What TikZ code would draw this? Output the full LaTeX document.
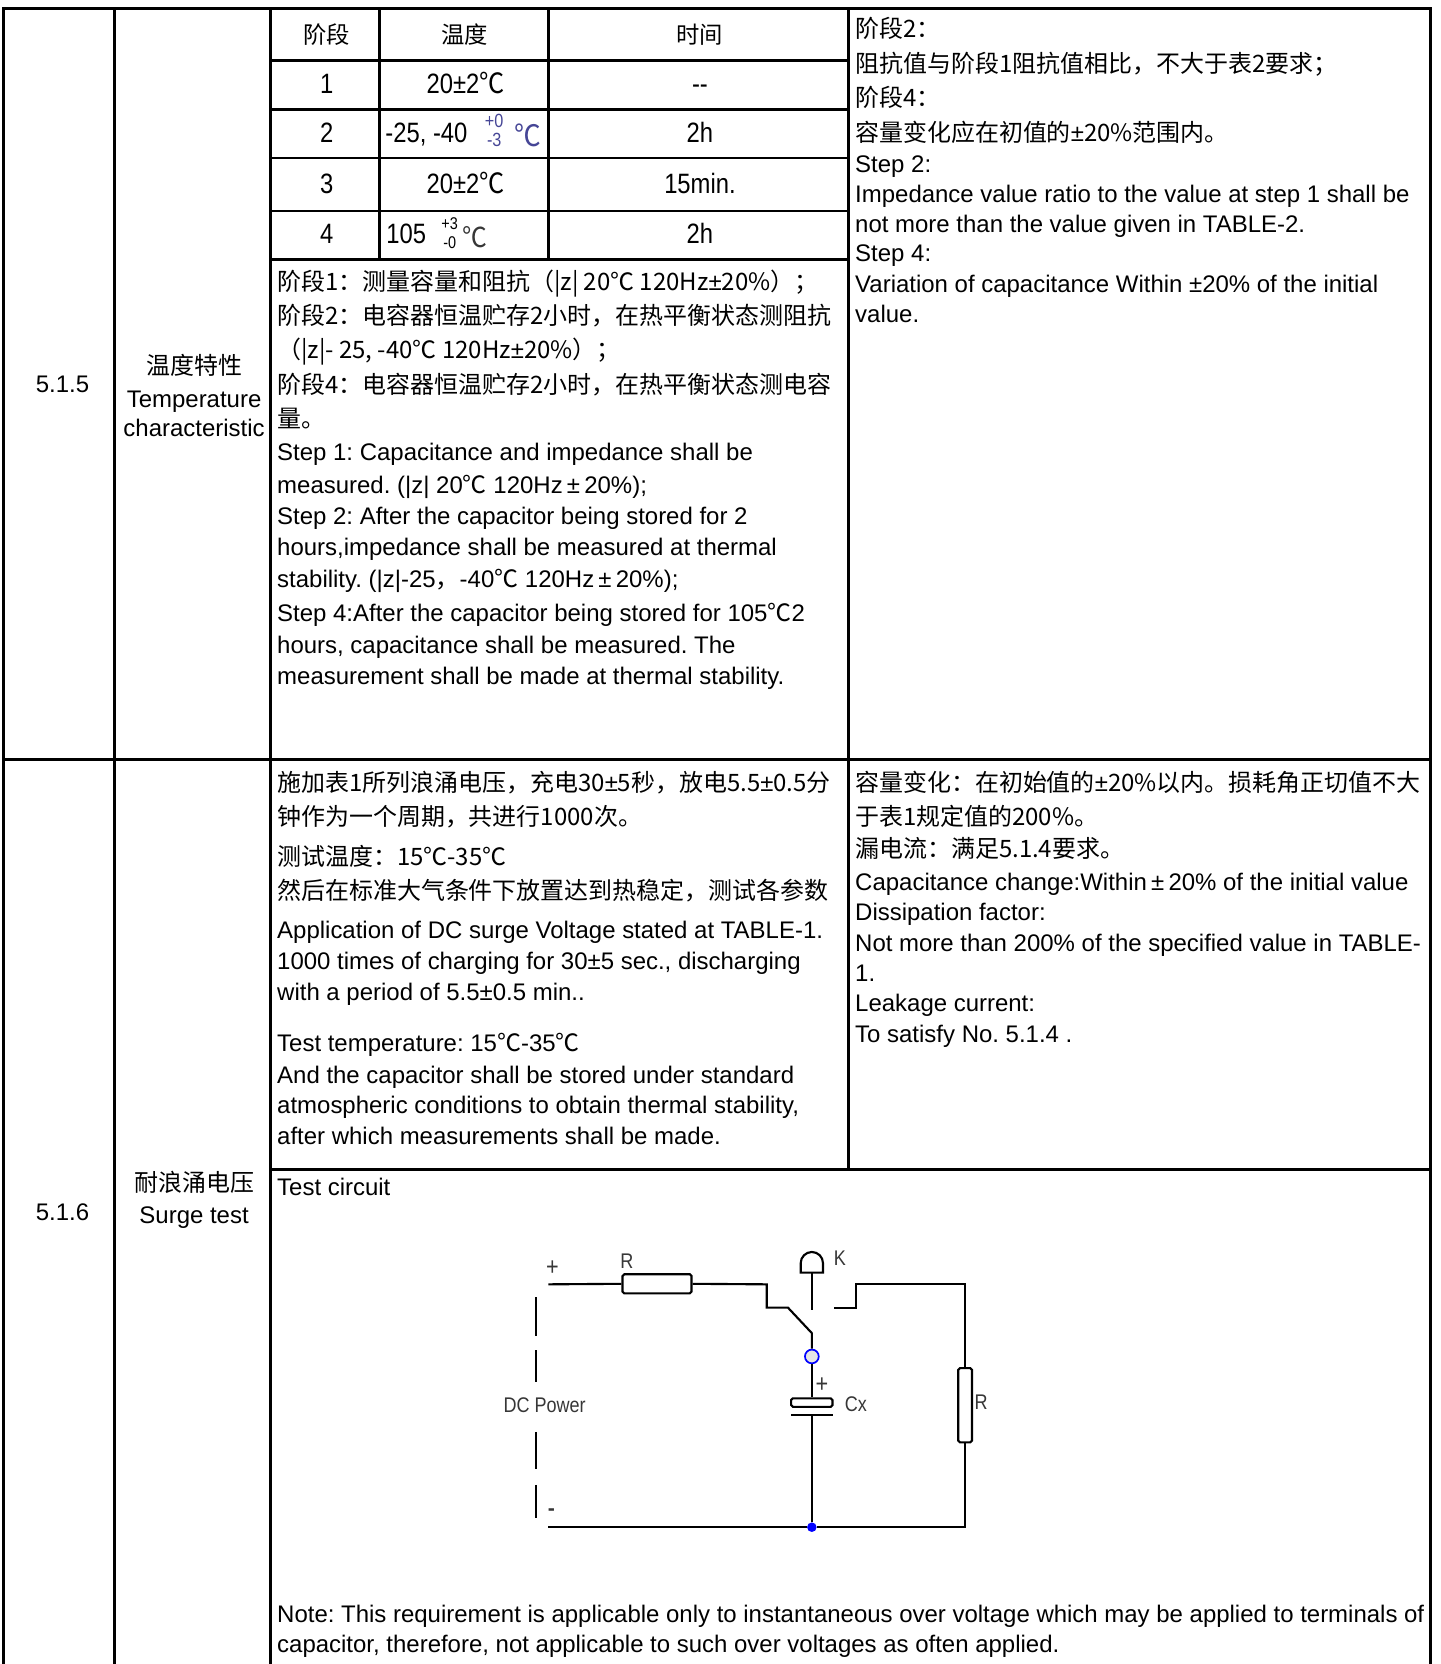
\documentclass[tikz,border=0pt]{standalone}
\usepackage{fontspec}
\usepackage{tikz}
\setmainfont{Liberation Sans}
\newfontfamily\cjk{Noto Sans CJK SC}
\newfontfamily\narrow[FakeStretch=0.85]{Liberation Sans}
\newfontfamily\cjknarrow[FakeStretch=0.9]{Noto Sans CJK SC}
\newcommand{\lpm}{{\rmfamily ±}}
\definecolor{supblue}{RGB}{70,70,150}
\definecolor{circgray}{RGB}{55,55,55}
\frenchspacing

\begin{document}
\begin{tikzpicture}[x=0.5pt,y=-0.5pt]

    \tikzstyle{txt} = [anchor=base west, inner sep=0pt, font=\fontsize{11.3}{14}\selectfont];
    \tikzstyle{zh} = [txt, font=\fontsize{11.3}{14}\selectfont\cjk];
    \tikzstyle{mid} = [txt, anchor=base];
    \tikzstyle{zhmid} = [zh, anchor=base];
    \tikzstyle{cell} = [anchor=base, inner sep=0pt, font=\fontsize{13.2}{15}\selectfont\narrow];
    \tikzstyle{zhcell} = [anchor=base, inner sep=0pt, font=\fontsize{11}{13}\selectfont\cjk];
    \tikzstyle{sup} = [inner sep=0pt, font=\fontsize{9}{10}\selectfont\narrow, text=supblue];
    \tikzstyle{deg} = [inner sep=0pt, font=\fontsize{14}{15}\selectfont\cjknarrow, text=supblue];
    \tikzstyle{grid} = [line width=1.3pt, line cap=rect];
    \tikzstyle{wire} = [line width=1pt];
    \tikzstyle{res} = [draw, rectangle, rounded corners=0.8pt, line width=1pt, inner sep=0pt];
    \tikzstyle{lbl} = [inner sep=0pt, font=\fontsize{10}{12}\selectfont\narrow, text=circgray];

    \useasboundingbox (0,0) rectangle (1358,1569);

    % table frame
    \draw[grid] (3,1575) -- (3,8) -- (1349,8) -- (1349,1575);
    \draw[grid] (108,8) -- (108,1575);
    \draw[grid] (255,8) -- (255,1575);
    \draw[grid] (800,8) -- (800,1103);
    \draw[grid] (3,716) -- (1349,716);
    \draw[grid] (255,1103) -- (1349,1103);
    % stage table
    \draw[grid] (358,8) -- (358,245);
    \draw[grid] (517,8) -- (517,245);
    \draw[grid] (255,57) -- (800,57);
    \draw[grid] (255,103) -- (800,103);
    \draw[grid] (255,149) -- (800,149);
    \draw[grid] (255,199) -- (800,199);
    \draw[grid] (255,245) -- (800,245);

    % item columns
    \node[mid] (n515) at (59,370) {5.1.5};
    \node[zhmid] (k515) at (183,353) {温度特性};
    \node[mid] (e515a) at (183,384) {Temperature};
    \node[mid] (e515b) at (183,412) {characteristic};
    \node[mid] (n516) at (59,1151) {5.1.6};
    \node[zhmid] (k516) at (183,1123) {耐浪涌电压};
    \node[mid] (e516) at (183,1154) {Surge test};

    % stage table cells
    \node[zhcell] (h1) at (308,41) {阶段};
    \node[zhcell] (h2) at (438,41) {温度};
    \node[zhcell] (h3) at (660,41) {时间};
    \node[cell] (s1) at (308,88) {1};
    \node[cell] (t1) at (439,88) {20±2{\cjknarrow ℃}};
    \node[cell] (m1) at (660,88) {-{}-};
    \node[cell] (s2) at (308,134) {2};
    \node[cell, anchor=base west] (t2) at (363,134) {-25, -40};
    \node[sup] (t2a) at (466,114) {+0};
    \node[sup] (t2b) at (466,132) {-3};
    \node[deg] (t2c) at (498,128) {℃};
    \node[cell] (m2) at (660,134) {2h};
    \node[cell] (s3) at (308,182) {3};
    \node[cell] (t3) at (439,182) {20±2{\cjknarrow ℃}};
    \node[cell] (m3) at (660,182) {15min.};
    \node[cell] (s4) at (308,230) {4};
    \node[cell, anchor=base west] (t4) at (364,230) {105};
    \node[sup, text=black, font=\fontsize{8}{9}\selectfont\narrow] (t4a) at (424,211) {+3};
    \node[sup, text=black, font=\fontsize{8}{9}\selectfont\narrow] (t4b) at (424,229) {-0};
    \node[deg, text=circgray, font=\fontsize{13}{14}\selectfont\cjknarrow] (t4c) at (448,224) {℃};
    \node[cell] (m4) at (660,230) {2h};

    % 5.1.5 method
    \node[zh] (a1) at (261,274) {阶段1：测量容量和阻抗（|z| 20℃ 120Hz\lpm 20\%）；};
    \node[zh] (a2) at (261,306) {阶段2：电容器恒温贮存2小时，在热平衡状态测阻抗};
    \node[zh] (a3) at (261,338) {（|z|- 25, -40℃ 120Hz\lpm 20\%）；};
    \node[zh] (a4) at (261,371) {阶段4：电容器恒温贮存2小时，在热平衡状态测电容};
    \node[zh] (a5) at (261,403) {量。};
    \node[txt] (a6) at (261,434) {Step 1: Capacitance and impedance shall be};
    \node[txt] (a7) at (261,465) {measured. (|z| 20{\cjk ℃} 120Hz\makebox[0.9em]{±}20\%);};
    \node[txt] (a8) at (261,495) {Step 2: After the capacitor being stored for 2};
    \node[txt] (a9) at (261,524) {hours,impedance shall be measured at thermal};
    \node[txt] (a10) at (261,554) {stability. (|z|-25{\cjk ，}-40{\cjk ℃} 120Hz\makebox[0.9em]{±}20\%);};
    \node[txt] (a11) at (261,586) {Step 4:After the capacitor being stored for 105{\cjk ℃}2};
    \node[txt] (a12) at (261,616) {hours, capacitance shall be measured. The};
    \node[txt] (a13) at (261,645) {measurement shall be made at thermal stability.};

    % 5.1.5 requirement
    \node[zh] (b1) at (806,35) {阶段2：};
    \node[zh] (b2) at (806,68) {阻抗值与阶段1阻抗值相比，不大于表2要求；};
    \node[zh] (b3) at (806,100) {阶段4：};
    \node[zh] (b4) at (806,133) {容量变化应在初值的\lpm 20\%范围内。};
    \node[txt] (b5) at (806,163) {Step 2:};
    \node[txt] (b6) at (806,191) {Impedance value ratio to the value at step 1 shall be};
    \node[txt] (b7) at (806,219) {not more than the value given in TABLE-2.};
    \node[txt] (b8) at (806,247) {Step 4:};
    \node[txt] (b9) at (806,276) {Variation of capacitance Within ±20\% of the initial};
    \node[txt] (b10) at (806,304) {value.};

    % 5.1.6 method
    \node[zh] (c1) at (261,746) {施加表1所列浪涌电压，充电30\lpm 5秒，放电5.5\lpm 0.5分};
    \node[zh] (c2) at (261,778) {钟作为一个周期，共进行1000次。};
    \node[zh] (c3) at (261,816) {测试温度：15℃-35℃};
    \node[zh] (c4) at (261,848) {然后在标准大气条件下放置达到热稳定，测试各参数};
    \node[txt] (c5) at (261,885) {Application of DC surge Voltage stated at TABLE-1.};
    \node[txt] (c6) at (261,914) {1000 times of charging for 30±5 sec., discharging};
    \node[txt] (c7) at (261,943) {with a period of 5.5±0.5 min..};
    \node[txt] (c8) at (261,991) {Test temperature: 15{\cjk ℃}-35{\cjk ℃}};
    \node[txt] (c9) at (261,1022) {And the capacitor shall be stored under standard};
    \node[txt] (c10) at (261,1050) {atmospheric conditions to obtain thermal stability,};
    \node[txt] (c11) at (261,1079) {after which measurements shall be made.};

    % 5.1.6 requirement
    \node[zh] (d1) at (806,746) {容量变化：在初始值的\lpm 20\%以内。损耗角正切值不大};
    \node[zh] (d2) at (806,778) {于表1规定值的200\%。};
    \node[zh] (d3) at (806,809) {漏电流：满足5.1.4要求。};
    \node[txt] (d4) at (806,840) {Capacitance change:Within\makebox[0.9em]{±}20\% of the initial value};
    \node[txt] (d5) at (806,868) {Dissipation factor:};
    \node[txt] (d6) at (806,897) {Not more than 200\% of the specified value in TABLE-};
    \node[txt] (d7) at (806,925) {1.};
    \node[txt] (d8) at (806,954) {Leakage current:};
    \node[txt] (d9) at (806,983) {To satisfy No. 5.1.4 .};

    % test circuit
    \node[txt] (tc) at (261,1127) {Test circuit};
    \node[txt] (nt1) at (261,1530) {Note: This requirement is applicable only to instantaneous over voltage which may be applied to terminals of};
    \node[txt] (nt2) at (261,1558) {capacitor, therefore, not applicable to such over voltages as often applied.};

    \coordinate (pplus) at (517,1211);
    \coordinate (pminus) at (517,1440);
    \node[res, minimum width=32.5pt, minimum height=9pt] (r1) at (619.5,1210.5) {};
    \coordinate (k1) at (723,1211);
    \coordinate (k2) at (743,1233);
    \coordinate (k3) at (765.5,1257);
    \node[circle, draw=blue, fill=gray!20, line width=0.8pt, minimum size=6.5pt, inner sep=0pt] (sw) at (765.5,1279) {};
    \node[res, minimum width=19.5pt, minimum height=4pt] (cxp) at (765.5,1322.5) {};
    \coordinate (cxn) at (765.5,1334);
    \node[circle, fill=blue, minimum size=4.5pt, inner sep=0pt] (jn) at (765.5,1440) {};
    \coordinate (rb) at (910,1440);
    \node[res, minimum width=6.5pt, minimum height=35pt] (r2) at (910,1325) {};
    \coordinate (k4) at (910,1211);
    \coordinate (k5) at (807,1211);
    \coordinate (k6) at (807,1233);
    \coordinate (k7) at (786,1233);
    \coordinate (kt) at (765.5,1200);
    \coordinate (kb) at (765.5,1235);

    \draw[wire] (pplus) -- (r1.west);
    \draw[wire] (r1.east) -- (k1) |- (k2) -- (k3) -- (sw.north);
    \draw[wire] (sw.south) -- (cxp.north);
    \draw[wire] (746,1334) -- (785,1334);
    \draw[wire] (cxn) -- (jn);
    \draw[wire] (pminus) -- (jn) -- (rb) -- (r2.south);
    \draw[wire] (r2.north) -- (k4) -- (k5) -- (k6) -- (k7);
    \draw[wire] (kt) -- (kb);
    \draw[wire] (755,1200) -- (755,1191) arc[start angle=180, end angle=360, radius=10.5] -- (776,1200) -- cycle;
    % DC power
    \draw[wire] (505.5,1223) -- (505.5,1260);
    \draw[wire] (505.5,1273) -- (505.5,1303);
    \draw[wire] (505.5,1350) -- (505.5,1385);
    \draw[wire] (505.5,1400) -- (505.5,1431);

    \node[lbl, font=\fontsize{12}{13}\selectfont\narrow] (plus) at (521,1196) {+};
    \node[lbl, font=\fontsize{10}{12}\selectfont\bfseries] (minus) at (520,1426) {-};
    \node[lbl] (rl1) at (591,1189) {R};
    \node[lbl] (kl) at (792,1186) {K};
    \node[lbl] (cxl) at (807,1324) {Cx};
    \node[lbl, font=\fontsize{12}{13}\selectfont\narrow] (plc) at (775,1306) {+};
    \node[lbl] (rl2) at (925,1322) {R};
    \node[lbl] (dcl) at (513.5,1325) {DC Power};

\end{tikzpicture}
\end{document}
